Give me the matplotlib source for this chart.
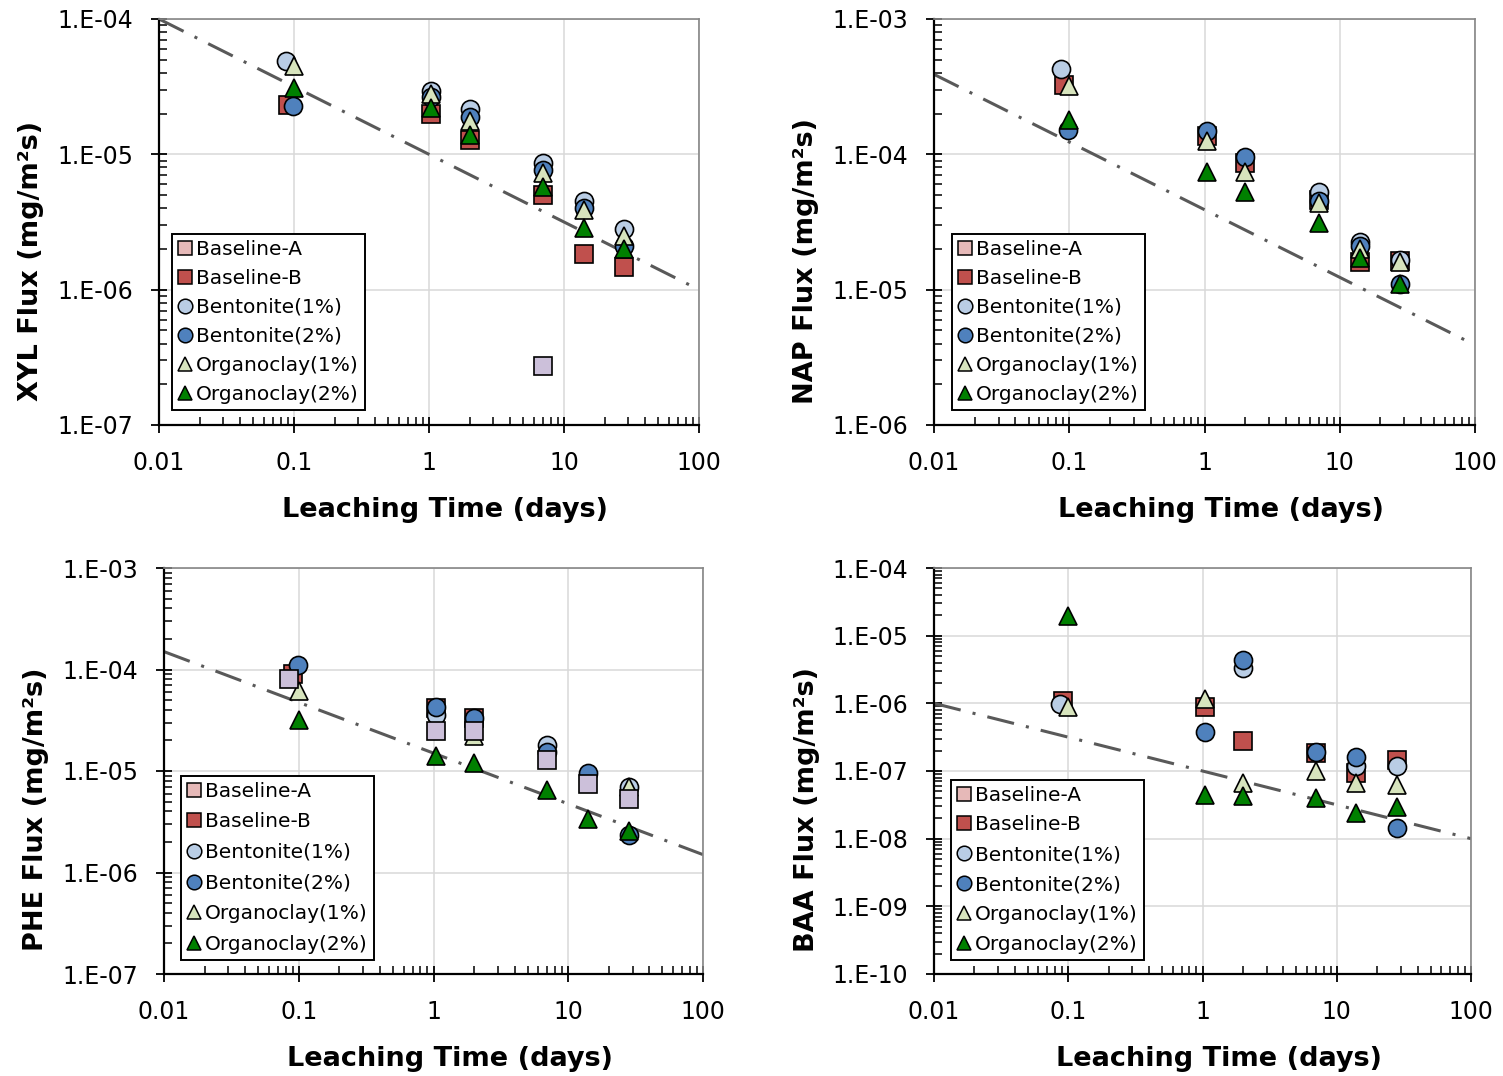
import numpy as np
import matplotlib
matplotlib.use("Agg")
from matplotlib import pyplot as plt
from matplotlib.lines import Line2D
from matplotlib.ticker import FuncFormatter, LogLocator, NullFormatter

nan = np.nan

# series (same order as the legend)
series_names = ['Baseline-A', 'Baseline-B', 'Bentonite(1%)', 'Bentonite(2%)',
                'Organoclay(1%)', 'Organoclay(2%)']
first_day = [0.084, 0.091, 0.087, 0.098, 0.1, 0.1]
later_days = [1.04, 2.0, 7.0, 14.0, 28.0]

# flux values, rows follow series_names
xyl_flux = [
    [nan, nan, nan, 2.75e-7, nan, nan],
    [2.3e-5, 2.0e-5, 1.28e-5, 5.0e-6, 1.84e-6, 1.46e-6],
    [4.9e-5, 2.95e-5, 2.15e-5, 8.6e-6, 4.55e-6, 2.8e-6],
    [2.27e-5, 2.65e-5, 1.9e-5, 7.6e-6, 4.0e-6, 2.1e-6],
    [4.5e-5, 2.8e-5, 1.75e-5, 7.3e-6, 3.9e-6, 2.5e-6],
    [3.1e-5, 2.2e-5, 1.4e-5, 5.7e-6, 2.85e-6, 2.0e-6],
]
nap_flux = [
    [nan, nan, nan, nan, nan, nan],
    [3.25e-4, 1.36e-4, 8.6e-5, 4.6e-5, 1.6e-5, 1.62e-5],
    [4.3e-4, nan, nan, 5.3e-5, 2.26e-5, 1.65e-5],
    [1.52e-4, 1.5e-4, 9.5e-5, 4.5e-5, 2.1e-5, 1.1e-5],
    [3.2e-4, 1.26e-4, 7.4e-5, 4.36e-5, 2.0e-5, 1.6e-5],
    [1.8e-4, 7.4e-5, 5.25e-5, 3.13e-5, 1.7e-5, 1.1e-5],
]
phe_flux = [
    [8.1e-5, 2.5e-5, 2.45e-5, 1.28e-5, 7.4e-6, 5.3e-6],
    [9.1e-5, 4.2e-5, 3.3e-5, nan, nan, nan],
    [nan, 3.6e-5, nan, 1.8e-5, nan, 6.9e-6],
    [1.11e-4, 4.25e-5, 3.3e-5, 1.55e-5, 9.5e-6, 2.34e-6],
    [6.2e-5, nan, 2.2e-5, nan, nan, 6.9e-6],
    [3.2e-5, 1.4e-5, 1.2e-5, 6.5e-6, 3.4e-6, 2.57e-6],
]
baa_flux = [
    [nan, nan, nan, nan, nan, nan],
    [1.1e-6, 8.7e-7, 2.8e-7, 1.85e-7, 9.5e-8, 1.45e-7],
    [9.8e-7, nan, 3.3e-6, nan, 1.2e-7, 1.2e-7],
    [nan, 3.8e-7, 4.3e-6, 1.9e-7, 1.6e-7, 1.43e-8],
    [8.7e-7, 1.16e-6, 6.7e-8, 1.0e-7, 6.6e-8, 6.3e-8],
    [1.98e-5, 4.35e-8, 4.2e-8, 3.96e-8, 2.4e-8, 2.9e-8],
]

# dash-dot reference lines (value at 0.01 and 100 days)
ref_days = [0.01, 100]
xyl_ref = [1e-4, 1e-6]
nap_ref = [3.9e-4, 3.9e-6]
phe_ref = [1.5e-4, 1.5e-6]
baa_ref = [1e-6, 1e-8]

markers = ['s', 's', 'o', 'o', '^', '^']
face = ['#CCC0DA', '#C0504D', '#B9CDE5', '#4F81BD', '#D7E4BD', '#008000']
legend_face = ['#E6B9B8', '#C0504D', '#B9CDE5', '#4F81BD', '#D7E4BD', '#008000']

panels = [
    dict(label='XYL', flux=xyl_flux, ref=xyl_ref, ylim=(1e-7, 1e-4),
         rect=[159, 19, 540, 406], order=[0, 1, 2, 3, 4, 5],
         leg=(13, 15), lsp=0.5),
    dict(label='NAP', flux=nap_flux, ref=nap_ref, ylim=(1e-6, 1e-3),
         rect=[934, 19, 541, 406], order=[0, 1, 2, 3, 4, 5],
         leg=(18, 15), lsp=0.5),
    dict(label='PHE', flux=phe_flux, ref=phe_ref, ylim=(1e-7, 1e-3),
         rect=[164, 568, 539, 406], order=[1, 2, 3, 4, 0, 5],
         leg=(17, 14), lsp=0.58),
    dict(label='BAA', flux=baa_flux, ref=baa_ref, ylim=(1e-10, 1e-4),
         rect=[934, 568, 537, 406], order=[0, 1, 2, 3, 4, 5],
         leg=(17, 14), lsp=0.54),
]

W, H = 1503, 1076
plt.rcParams['font.family'] = ['DejaVu Sans']
fig = plt.figure(figsize=(W / 100, H / 100), dpi=100)


def ytick_fmt(v, pos):
    return '1.E-%02d' % int(round(-np.log10(v)))


def xtick_fmt(v, pos):
    return '%g' % v


for p in panels:
    x0, y0, w, h = p['rect']
    ax = fig.add_axes([x0 / W, 1 - (y0 + h) / H, w / W, h / H])
    ax.set_xscale('log')
    ax.set_yscale('log')
    ax.set_xlim(0.01, 100)
    ax.set_ylim(*p['ylim'])

    ax.plot(ref_days, p['ref'], color='#595959', lw=2.2,
            linestyle=(0, (9, 4, 1, 4)), zorder=2)

    for z, i in enumerate(p['order']):
        days = [first_day[i]] + later_days
        ax.plot(days, p['flux'][i], linestyle='none', marker=markers[i],
                markersize=13, markerfacecolor=face[i],
                markeredgecolor='black', markeredgewidth=1.2, zorder=3 + z)

    ax.grid(True, which='major', color='#D9D9D9', lw=1.1, zorder=0)
    ax.set_axisbelow(True)

    ax.xaxis.set_major_locator(LogLocator(base=10, numticks=20))
    ax.xaxis.set_minor_locator(LogLocator(base=10, subs=np.arange(2, 10), numticks=50))
    ax.yaxis.set_major_locator(LogLocator(base=10, numticks=20))
    ax.yaxis.set_minor_locator(LogLocator(base=10, subs=np.arange(2, 10), numticks=80))
    ax.xaxis.set_major_formatter(FuncFormatter(xtick_fmt))
    ax.yaxis.set_major_formatter(FuncFormatter(ytick_fmt))
    ax.xaxis.set_minor_formatter(NullFormatter())
    ax.yaxis.set_minor_formatter(NullFormatter())
    ax.tick_params(which='major', direction='inout', length=11, width=1.3,
                   labelsize=17, top=False, right=False)
    ax.tick_params(axis='y', which='major', pad=13)
    ax.tick_params(axis='x', which='major', pad=13)
    ax.tick_params(which='minor', direction='in', length=5.5, width=1.1,
                   top=False, right=False)

    for s in ['left', 'bottom']:
        ax.spines[s].set_color('black')
        ax.spines[s].set_linewidth(1.6)
    for s in ['top', 'right']:
        ax.spines[s].set_color('#868686')
        ax.spines[s].set_linewidth(1.2)

    ax.set_xlabel('Leaching Time (days)', fontsize=19.5, fontweight='bold')
    ax.set_ylabel(p['label'] + ' Flux (mg/m²s)', fontsize=19.5, fontweight='bold')
    ax.xaxis.set_label_coords(0.53, -0.178)
    ax.yaxis.set_label_coords(-0.213, 0.405)

    handles = [Line2D([], [], linestyle='none', marker=markers[i], markersize=10.5,
                      markerfacecolor=legend_face[i], markeredgecolor='black',
                      markeredgewidth=1.1, label=series_names[i])
               for i in range(len(series_names))]
    lx, ly = p['leg']
    leg = ax.legend(handles=handles, loc='lower left',
                    bbox_to_anchor=(lx / w, ly / h), borderaxespad=0,
                    fontsize=14.5, handlelength=0.7, handletextpad=0.2,
                    labelspacing=p['lsp'], borderpad=0.3, fancybox=False,
                    framealpha=1, edgecolor='black')
    leg.get_frame().set_linewidth(1.4)
    leg.set_zorder(20)

plt.savefig('out.png', dpi=100)
